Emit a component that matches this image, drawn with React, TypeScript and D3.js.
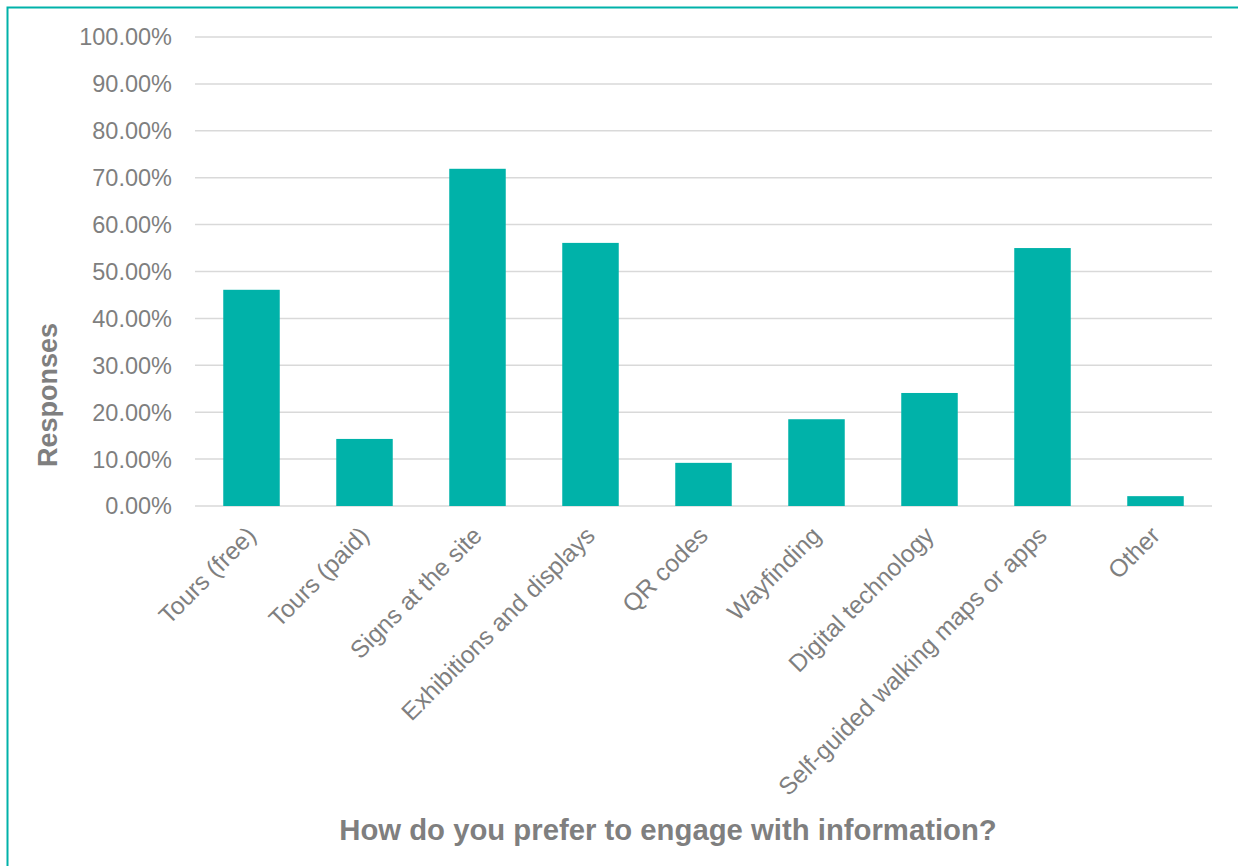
import React, { useEffect, useRef } from 'react';
import * as d3 from 'd3';

const categories = [
  'Tours (free)',
  'Tours (paid)',
  'Signs at the site',
  'Exhibitions and displays',
  'QR codes',
  'Wayfinding',
  'Digital technology',
  'Self-guided walking maps or apps',
  'Other',
];
const responses = [0.461, 0.143, 0.719, 0.561, 0.092, 0.185, 0.241, 0.55, 0.021];
const yTicks = [0, 0.1, 0.2, 0.3, 0.4, 0.5, 0.6, 0.7, 0.8, 0.9, 1.0];

const width = 1238;
const height = 866;
const margin = { top: 37, right: 26, bottom: 360, left: 195 };
const teal = '#00B2A9';
const grey = '#7f7f7f';
const font = '"Liberation Sans", Arial, sans-serif';

const App: React.FC = () => {
  const ref = useRef<SVGSVGElement | null>(null);

  useEffect(() => {
    document.body.style.margin = '0';
    if (!ref.current) return;
    const svg = d3.select(ref.current);
    svg.selectAll('*').remove();

    // chart frame (only left & top visible in the crop)
    svg.append('rect')
      .attr('x', 7.5).attr('y', 7.5)
      .attr('width', width + 20).attr('height', height + 20)
      .attr('fill', 'white')
      .attr('stroke', teal)
      .attr('stroke-width', 2);

    const x = d3.scaleBand<string>()
      .domain(categories)
      .range([margin.left, width - margin.right])
      .paddingInner(0.5)
      .paddingOuter(0.25);

    const y = d3.scaleLinear()
      .domain([0, 1])
      .range([height - margin.bottom, margin.top]);

    // gridlines
    svg.append('g')
      .selectAll('line')
      .data(yTicks)
      .join('line')
      .attr('x1', margin.left)
      .attr('x2', width - margin.right)
      .attr('y1', d => y(d))
      .attr('y2', d => y(d))
      .attr('stroke', '#d9d9d9')
      .attr('stroke-width', 1.5);

    // y tick labels
    svg.append('g')
      .selectAll('text')
      .data(yTicks)
      .join('text')
      .attr('x', 172)
      .attr('y', d => y(d))
      .attr('dy', '0.36em')
      .attr('text-anchor', 'end')
      .style('font-family', font)
      .style('font-size', '23.5px')
      .attr('fill', grey)
      .text(d => d3.format('.2%')(d));

    // bars
    svg.append('g')
      .selectAll('rect')
      .data(categories)
      .join('rect')
      .attr('x', d => x(d)!)
      .attr('width', x.bandwidth())
      .attr('y', (d, i) => y(responses[i]))
      .attr('height', (d, i) => y(0) - y(responses[i]))
      .attr('fill', teal);

    // category labels, rotated
    svg.append('g')
      .selectAll('text')
      .data(categories)
      .join('text')
      .attr('transform', d => `translate(${x(d)! + x.bandwidth() / 2 + 6},537) rotate(-45)`)
      .attr('text-anchor', 'end')
      .style('font-family', font)
      .style('font-size', '24.5px')
      .attr('fill', grey)
      .text(d => d);

    // axis titles
    svg.append('text')
      .attr('transform', `translate(57,395) rotate(-90)`)
      .attr('text-anchor', 'middle')
      .style('font-family', font)
      .style('font-size', '27px')
      .style('font-weight', 'bold')
      .attr('fill', grey)
      .text('Responses');

    svg.append('text')
      .attr('x', 668)
      .attr('y', 840)
      .attr('text-anchor', 'middle')
      .style('font-family', font)
      .style('font-size', '29.3px')
      .style('font-weight', 'bold')
      .attr('fill', grey)
      .text('How do you prefer to engage with information?');
  }, []);

  return <svg ref={ref} width={width} height={height} style={{ display: 'block' }} />;
};

export default App;
